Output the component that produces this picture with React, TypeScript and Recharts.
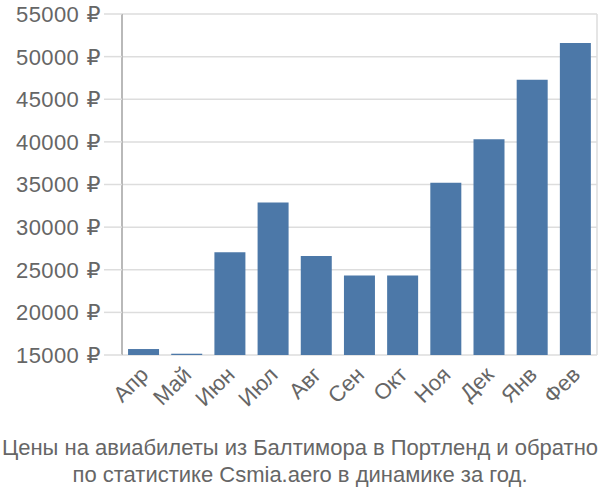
import { BarChart, Bar, XAxis, YAxis, CartesianGrid } from 'recharts';

const months = ['Апр', 'Май', 'Июн', 'Июл', 'Авг', 'Сен', 'Окт', 'Ноя', 'Дек', 'Янв', 'Фев'];
const prices = [15700, 15150, 27050, 32900, 26600, 24320, 24320, 35200, 40300, 47300, 51600];
const yTicks = [15000, 20000, 25000, 30000, 35000, 40000, 45000, 50000, 55000];
const titleLines = [
    'Цены на авиабилеты из Балтимора в Портленд и обратно',
    'по статистике Csmia.aero в динамике за год.',
];

const data = months.map((m, i) => ({ month: m, price: prices[i], idx: i }));
const gridTicks = months.map((_, i) => i).concat(months.length);

const font = '"Liberation Sans", Arial, sans-serif';

function PriceTick(props: any) {
    const { x, y, payload } = props;
    return (
        <text x={x} y={y} dy="0.36em" textAnchor="end" fill="#666" fontSize={22} fontFamily={font} letterSpacing={0.4}>
            <tspan>{payload.value}</tspan>
            <tspan fontFamily='"DejaVu Sans", sans-serif'> ₽</tspan>
        </text>
    );
}

export default function App() {
    return (
        <div style={{ position: 'absolute', left: 0, top: 0, width: 600, height: 500, background: '#fff', fontFamily: font }}>
            <BarChart
                width={600}
                height={430}
                data={data}
                margin={{ top: 14, right: 3, bottom: 0, left: 0 }}
                barCategoryGap="14%"
            >
                <CartesianGrid xAxisId="grid" stroke="#ddd" strokeWidth={1.5} />
                <XAxis
                    xAxisId="grid"
                    dataKey="idx"
                    type="number"
                    domain={[0, months.length]}
                    ticks={gridTicks}
                    tick={false}
                    tickSize={17}
                    tickLine={{ stroke: '#ddd', strokeWidth: 1.5 }}
                    axisLine={false}
                    height={17}
                />
                <XAxis
                    xAxisId="cat"
                    dataKey="month"
                    tickLine={false}
                    axisLine={false}
                    interval={0}
                    angle={-45}
                    textAnchor="end"
                    tickSize={0}
                    tickMargin={10}
                    height={58}
                    tick={{ fill: '#666', fontSize: 22, fontFamily: font, verticalAnchor: 'middle', dx: -5 }}
                />
                <YAxis
                    domain={[15000, 55000]}
                    ticks={yTicks}
                    width={122}
                    tickSize={18}
                    tickMargin={3}
                    tickLine={{ stroke: '#ddd', strokeWidth: 1.5 }}
                    axisLine={{ stroke: '#aaa', strokeWidth: 1.5 }}
                    tick={<PriceTick />}
                    allowDataOverflow
                />
                <Bar xAxisId="cat" dataKey="price" fill="#4c78a8" isAnimationActive={false} />
            </BarChart>
            <div style={{ position: 'absolute', left: 0, top: 434, width: 600, textAlign: 'center', color: '#666', fontSize: 22, lineHeight: '27px' }}>
                {titleLines.map((t) => (
                    <div key={t}>{t}</div>
                ))}
            </div>
        </div>
    );
}
